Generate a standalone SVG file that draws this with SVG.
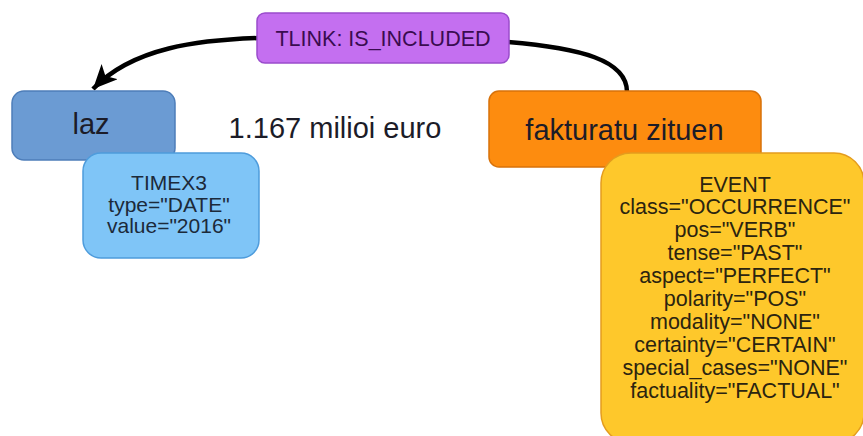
<svg xmlns="http://www.w3.org/2000/svg" width="863" height="436" viewBox="0 0 863 436">
<defs>
<style>
text{font-family:"Liberation Sans",Arial,sans-serif;text-anchor:middle}
.conn{fill:none;stroke:#000;stroke-width:4.5}
.big{font-size:29px;fill:#1c1c28}
.attr{font-size:21.5px;fill:#2b2410}
</style>
<marker id="ah" markerUnits="userSpaceOnUse" markerWidth="28" markerHeight="24" refX="24" refY="11" orient="auto">
<path d="M0,0 L24,11 L0,22 L6,11 Z" fill="#000"/>
</marker>
</defs>
<rect width="863" height="436" fill="#fff"/>
<g id="connectors">
<path class="conn" d="M258,38 C200,40 133,47 93,89" marker-end="url(#ah)"/>
<path class="conn" d="M508,42 C580,48 627,60 627,92"/>
</g>
<g id="tlink">
<rect x="257" y="13" width="252" height="50" rx="8" fill="#c46ff0" stroke="#9a4ccc" stroke-width="1.5"/>
<text x="383" y="46" style="font-size:21.5px;fill:#3a0c50">TLINK: IS_INCLUDED</text>
</g>
<g id="laz">
<rect x="12" y="91" width="163" height="69" rx="12" fill="#6b9bd3" stroke="#4d7db9" stroke-width="1.5"/>
<text class="big" x="91" y="134">laz</text>
</g>
<g id="timex3">
<rect x="83" y="153" width="176" height="105" rx="18" fill="#7fc5f7" stroke="#4e9cdc" stroke-width="1.5"/>
<text style="font-size:21px;fill:#1c2a3a" x="169" y="190">TIMEX3</text>
<text style="font-size:21px;fill:#1c2a3a" x="169" y="211.7">type="DATE"</text>
<text style="font-size:21px;fill:#1c2a3a" x="169" y="233.4">value="2016"</text>
</g>
<g id="amount">
<text class="big" x="335" y="138">1.167 milioi euro</text>
</g>
<g id="fakturatu">
<rect x="489" y="91" width="272" height="76" rx="10" fill="#fd8c0f" stroke="#d8720a" stroke-width="1.5"/>
<text class="big" x="624.5" y="139.5">fakturatu zituen</text>
</g>
<g id="event">
<rect x="601" y="153" width="263" height="290" rx="30" fill="#fec82b" stroke="#e49c1e" stroke-width="1.5"/>
<text class="attr" x="735" y="191.7">EVENT</text>
<text class="attr" x="735" y="214.3">class="OCCURRENCE"</text>
<text class="attr" x="735" y="237">pos="VERB"</text>
<text class="attr" x="735" y="260">tense="PAST"</text>
<text class="attr" x="735" y="283">aspect="PERFECT"</text>
<text class="attr" x="735" y="306">polarity="POS"</text>
<text class="attr" x="735" y="328.5">modality="NONE"</text>
<text class="attr" x="735" y="351.7">certainty="CERTAIN"</text>
<text class="attr" x="735" y="375">special_cases="NONE"</text>
<text class="attr" x="735" y="398.3">factuality="FACTUAL"</text>
</g>
</svg>
